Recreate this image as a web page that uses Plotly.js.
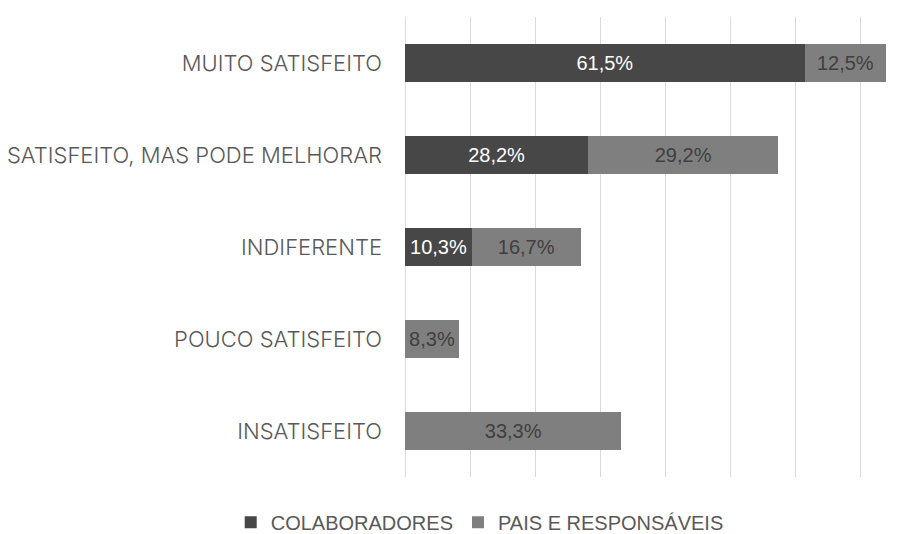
<!DOCTYPE html>
<html>
<head>
<meta charset="utf-8">
<script src="https://cdn.plot.ly/plotly-3.0.1.min.js"></script>
<style>html,body{margin:0;padding:0;background:#fff;}#chart{width:912px;height:534px;}</style>
</head>
<body>
<div id="chart"></div>
<script>
var categories = ["MUITO SATISFEITO", "SATISFEITO, MAS PODE MELHORAR", "INDIFERENTE", "POUCO SATISFEITO", "INSATISFEITO"];
var colaboradores = [61.5, 28.2, 10.3, null, null];
var paisResponsaveis = [12.5, 29.2, 16.7, 8.3, 33.3];
var seriesNames = ["COLABORADORES", "PAIS E RESPONSÁVEIS"];

function labels(arr) {
  return arr.map(function (v) { return v == null ? "" : v.toFixed(1).replace(".", ",") + "%"; });
}

var catFont = "Inter, 'Open Sans', sans-serif";
var sansFont = "'Liberation Sans', Arial, sans-serif";

var traces = [
  {
    type: "bar", orientation: "h", name: seriesNames[0],
    y: categories, x: colaboradores, text: labels(colaboradores),
    textposition: "inside", insidetextanchor: "middle", textangle: 0,
    textfont: {family: sansFont, size: 20, color: "#ffffff"},
    marker: {color: "#474747"}, hoverinfo: "x+y"
  },
  {
    type: "bar", orientation: "h", name: seriesNames[1],
    y: categories, x: paisResponsaveis, text: labels(paisResponsaveis),
    textposition: "inside", insidetextanchor: "middle", textangle: 0,
    textfont: {family: sansFont, size: 20, color: "#404040"},
    marker: {color: "#7f7f7f"}, hoverinfo: "x+y"
  }
];

var layout = {
  width: 912, height: 534,
  barmode: "stack", bargap: 0.59,
  margin: {l: 405, r: 0, t: 17, b: 57},
  paper_bgcolor: "#ffffff", plot_bgcolor: "#ffffff",
  font: {family: catFont, size: 22, color: "#595959"},
  xaxis: {
    range: [0, 78], dtick: 10, tick0: 0, showticklabels: false,
    showgrid: true, gridcolor: "#d9d9d9", gridwidth: 1,
    zeroline: true, zerolinecolor: "#d9d9d9", zerolinewidth: 1,
    showline: false, ticks: "", fixedrange: true
  },
  yaxis: {
    autorange: "reversed", showgrid: false, zeroline: false, showline: false,
    ticks: "", ticklabelstandoff: 22,
    tickfont: {family: catFont, size: 22, color: "#595959", weight: 300}
  },
  showlegend: true,
  legend: {
    orientation: "h", xref: "container", yref: "container",
    x: 0.526, xanchor: "center", y: 0.022, yanchor: "middle",
    font: {family: sansFont, size: 20, color: "#595959"},
    itemwidth: 30, traceorder: "normal"
  }
};

Plotly.newPlot("chart", traces, layout, {displayModeBar: false, staticPlot: true});
</script>
</body>
</html>
